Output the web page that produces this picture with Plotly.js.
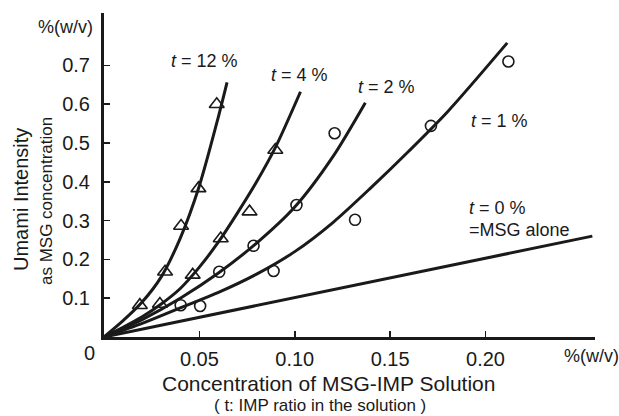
<!DOCTYPE html>
<html>
<head>
<meta charset="utf-8">
<script src="https://cdn.plot.ly/plotly-3.0.1.min.js"></script>
<style>html,body{margin:0;padding:0;background:#fff;}#chart{width:619px;height:416px;}</style>
</head>
<body>
<div id="chart"></div>
<script>
// ---- Data ----
// Fitted curves
const curve12X = [0, 0.01, 0.02, 0.03, 0.04, 0.05, 0.06, 0.0645];
const curve12Y = [0, 0.042, 0.09, 0.155, 0.255, 0.39, 0.568, 0.656];
const curve4X = [0, 0.01, 0.02, 0.03, 0.04, 0.05, 0.06, 0.07, 0.08, 0.09, 0.103];
const curve4Y = [0, 0.025, 0.052, 0.085, 0.125, 0.18, 0.245, 0.32, 0.40, 0.49, 0.632];
const curve2X = [0, 0.02, 0.04, 0.06, 0.08, 0.10, 0.12, 0.137];
const curve2Y = [0, 0.045, 0.10, 0.165, 0.242, 0.335, 0.465, 0.604];
const curve1X = [0, 0.02, 0.04, 0.06, 0.08, 0.10, 0.12, 0.14, 0.16, 0.18, 0.2114];
const curve1Y = [0, 0.035, 0.075, 0.115, 0.162, 0.22, 0.295, 0.385, 0.48, 0.58, 0.758];
const curve0X = [0, 0.256];
const curve0Y = [0, 0.26];

// Measured points
const tri12X = [0.0188, 0.032, 0.0404, 0.0495, 0.0591];
const tri12Y = [0.082, 0.168, 0.286, 0.383, 0.600];
const tri4X = [0.0293, 0.0465, 0.0612, 0.0763, 0.0898];
const tri4Y = [0.085, 0.160, 0.254, 0.323, 0.482];
const circ2X = [0.0402, 0.0604, 0.0784, 0.1009, 0.1209];
const circ2Y = [0.082, 0.168, 0.235, 0.340, 0.525];
const circ1X = [0.0504, 0.0889, 0.1316, 0.1714, 0.212];
const circ1Y = [0.080, 0.170, 0.302, 0.544, 0.710];

// Axis ticks
const xTickVals = [0.05, 0.10, 0.15, 0.20];
const xTickText = ['0.05', '0.10', '0.15', '0.20'];
const yTickVals = [0.1, 0.2, 0.3, 0.4, 0.5, 0.6, 0.7];
const yTickText = ['0.1', '0.2', '0.3', '0.4', '0.5', '0.6', '0.7'];

// Labels
const curveLabels = ['<i>t</i> = 12 %', '<i>t</i> = 4 %', '<i>t</i> = 2 %', '<i>t</i> = 1 %', '<i>t</i> = 0 %', '=MSG alone'];

// ---- Layout geometry ----
const W = 619, H = 416;
const M = {l: 104, r: 24, t: 13, b: 79};
const PW = W - M.l - M.r, PH = H - M.t - M.b;
const px = x => (x - M.l) / PW;
const py = y => 1 - (y - M.t) / PH;

const FONT = 'Arial, "Liberation Sans", Helvetica, sans-serif';
const INK = '#1a1a1a';

function lineTrace(x, y) {
  return {x: x, y: y, type: 'scatter', mode: 'lines', line: {color: INK, width: 3, shape: 'spline', smoothing: 0.8}, hoverinfo: 'skip', showlegend: false, cliponaxis: false};
}
function markTrace(x, y, sym, size) {
  return {x: x, y: y, type: 'scatter', mode: 'markers', marker: {symbol: sym, size: size, color: INK, line: {color: INK, width: 1.6}}, showlegend: false, cliponaxis: false};
}

const data = [
  lineTrace(curve12X, curve12Y),
  lineTrace(curve4X, curve4Y),
  lineTrace(curve2X, curve2Y),
  lineTrace(curve1X, curve1Y),
  lineTrace(curve0X, curve0Y),
  markTrace(tri12X, tri12Y, 'triangle-up-open', 13),
  markTrace(tri4X, tri4Y, 'triangle-up-open', 13),
  markTrace(circ2X, circ2Y, 'circle-open', 11),
  markTrace(circ1X, circ1Y, 'circle-open', 11)
];

function ann(text, x, y, size, extra) {
  return Object.assign({text: text, xref: 'paper', yref: 'paper', x: px(x), y: py(y), xanchor: 'center', yanchor: 'middle', showarrow: false, borderpad: 0, font: {family: FONT, size: size, color: INK}}, extra || {});
}

const annotations = [
  ann('%(w/v)', 65, 27, 18),
  ann('0', 89, 353, 20),
  ann('Umami Intensity', 21, 200, 20, {textangle: -90}),
  ann('as MSG concentration', 46, 201, 17, {textangle: -90}),
  ann('%(w/v)', 591, 356, 18),
  ann('Concentration of MSG-IMP Solution', 328, 383, 21),
  ann('( t: IMP ratio in the solution )', 320, 405, 17),
  ann(curveLabels[0], 204, 61, 18),
  ann(curveLabels[1], 299, 75, 18),
  ann(curveLabels[2], 386, 87, 18),
  ann(curveLabels[3], 499, 121, 18),
  ann(curveLabels[4], 468, 208, 18, {xanchor: 'left'}),
  ann(curveLabels[5], 468, 230, 18, {xanchor: 'left'})
];

const layout = {
  width: W, height: H,
  margin: M,
  paper_bgcolor: '#fff', plot_bgcolor: '#fff',
  showlegend: false,
  font: {family: FONT, color: INK},
  xaxis: {
    range: [0, 0.2574], showgrid: false, zeroline: false,
    showline: true, linecolor: INK, linewidth: 3,
    ticks: 'inside', ticklen: 6, tickwidth: 1.5, tickcolor: INK,
    tickvals: xTickVals, ticktext: xTickText,
    tickfont: {family: FONT, size: 20, color: INK}, ticklabelstandoff: 2
  },
  yaxis: {
    range: [0, 0.835], showgrid: false, zeroline: false,
    showline: true, linecolor: INK, linewidth: 3,
    ticks: 'inside', ticklen: 6, tickwidth: 1.5, tickcolor: INK,
    tickvals: yTickVals, ticktext: yTickText,
    tickfont: {family: FONT, size: 20, color: INK}, ticklabelstandoff: 7
  },
  annotations: annotations
};

Plotly.newPlot('chart', data, layout, {staticPlot: true, displayModeBar: false});
</script>
</body>
</html>
